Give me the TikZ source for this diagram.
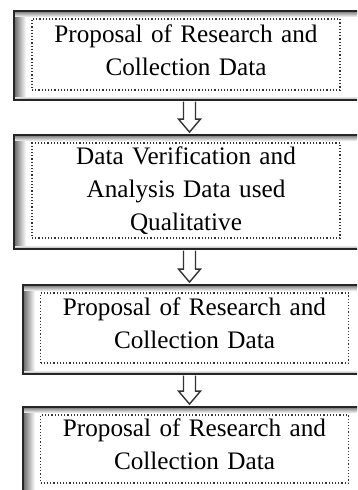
\documentclass[tikz,border=0pt]{standalone}
\usepackage{fontspec}
\setmainfont{Liberation Serif}
\usepackage{tikz}
\usetikzlibrary{calc}

\newcommand{\hollowarrow}[2]{%
  \draw[hollow] ($(ax |- #1.south)+(-6,0.8)$) -- ($(ax |- #2.north)+(-6,-15)$)
    -- ($(ax |- #2.north)+(-11,-15)$) -- ($(ax |- #2.north)+(0,-2)$)
    -- ($(ax |- #2.north)+(11,-15)$) -- ($(ax |- #2.north)+(6,-15)$)
    -- ($(ax |- #1.south)+(6,0.8)$);
}

\begin{document}
\begin{tikzpicture}[
  x=0.5pt,y=-0.5pt,
  font=\fontsize{12.6}{16.5}\selectfont,
  stagebox/.style={rectangle,draw=black!85,line width=0.9pt,fill=white,
    minimum width=179pt,inner sep=0pt,
    path picture={
      % bevel: grey fading inwards on the left, top and bottom
      \foreach \i in {0,...,11}{
        \pgfmathtruncatemacro\greyval{60-5*\i}
        \fill[black!\greyval]
          ([xshift={\i*0.5pt}]path picture bounding box.south west) rectangle
          ([xshift={\i*0.5pt+0.55pt}]path picture bounding box.north west);
      }
      \foreach \i in {0,...,5}{
        \pgfmathtruncatemacro\greyval{55-9*\i}
        \fill[black!\greyval]
          ([yshift={-\i*0.5pt}]path picture bounding box.north west) rectangle
          ([yshift={-\i*0.5pt-0.55pt}]path picture bounding box.north east);
      }
      \foreach \i in {0,1,2}{
        \pgfmathtruncatemacro\greyval{30-10*\i}
        \fill[black!\greyval]
          ([yshift={\i*0.5pt}]path picture bounding box.south west) rectangle
          ([yshift={\i*0.5pt+0.55pt}]path picture bounding box.south east);
      }
    }},
  textbox/.style={rectangle,draw=black!80,densely dotted,line width=0.6pt,
    fill=white,inner sep=0pt,text width=154pt,align=center},
  twoline/.style={textbox,execute at end node={\endgraf\vspace*{4.5pt}}},
  hollow/.style={draw=black!80,line width=0.7pt,fill=white,line join=miter}
]
\useasboundingbox (0,0) rectangle (357,490);
\clip (0,0) rectangle (357,490);

\coordinate (ax) at (189.5,0);

% first stage
\node[stagebox,minimum height=44.5pt] (proposalbox) at (193,55.5) {};
\node[twoline,minimum height=35.5pt] (proposal) at (186,54.5)
  {Proposal of Research and\\Collection Data};

% second stage
\node[stagebox,minimum height=57pt] (verifybox) at (193,192) {};
\node[textbox,minimum height=47.5pt] (verify) at (186,190.5)
  {Data Verification and\\Analysis Data used\\Qualitative};

% third stage
\node[stagebox,minimum height=44.5pt] (proposaltwobox) at (202,329.5) {};
\node[twoline,minimum height=35pt] (proposaltwo) at (194.5,328)
  {Proposal of Research and\\Collection Data};

% fourth stage
\node[stagebox,minimum height=45pt] (proposalthreebox) at (202,452) {};
\node[twoline,minimum height=34pt] (proposalthree) at (194.5,449)
  {Proposal of Research and\\Collection Data};

\hollowarrow{proposalbox}{verifybox}
\hollowarrow{verifybox}{proposaltwobox}
\hollowarrow{proposaltwobox}{proposalthreebox}

\end{tikzpicture}
\end{document}
